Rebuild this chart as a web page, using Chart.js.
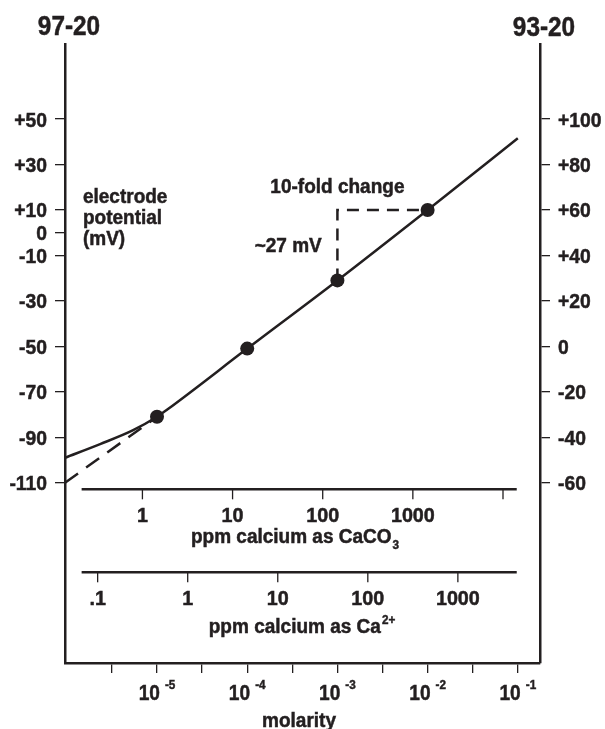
<!DOCTYPE html>
<html>
<head>
<meta charset="utf-8">
<script src="https://cdn.jsdelivr.net/npm/chart.js@4.4.1/dist/chart.umd.min.js"></script>
<style>
  html, body { margin: 0; padding: 0; background: #fff; }
  #wrap { width: 605px; height: 729px; }
</style>
</head>
<body>
<div id="wrap"><canvas id="electrodeChart" width="605" height="729"></canvas></div>
<script>
// response curve: molarity vs electrode potential (mV, left scale)
const molarity = [9.55e-7, 2.34e-6, 5.37e-6, 1e-5, 1.3e-5, 1e-4, 1e-3, 1e-2, 1e-1];
const potential = [-99, -93, -87, -81, -77.8, -51, -21, 10, 41.5];
// dashed extrapolation of the linear part
const extrapMolarity = [9.55e-7, 1e-5];
const extrapPotential = [-110, -81];
// calibration standards
const pointMolarity = [1e-5, 1e-4, 1e-3, 1e-2];
const pointPotential = [-81, -51, -21, 10];
// slope triangle (10-fold change)
const slopeMolarity = [1e-3, 1e-3, 1e-2];
const slopePotential = [-21, 10, 10];

// tick labels
const leftTicks = [50, 30, 10, 0, -10, -30, -50, -70, -90, -110];
const rightTicks = [100, 80, 60, 40, 20, 0, -20, -40, -60];
const molarityTicks = [3.16e-6, 1e-5, 3.16e-5, 1e-4, 3.16e-4, 1e-3, 3.16e-3, 1e-2, 3.16e-2, 1e-1];
const molarityExp = ['', '-5', '', '-4', '', '-3', '', '-2', '', '-1'];
const caco3Ticks = [1, 10, 100, 1000, 10000];
const caco3Labels = ['1', '10', '100', '1000', ''];
const caTicks = [0.1, 1, 10, 100, 1000];
const caLabels = ['.1', '1', '10', '100', '1000'];

const ink = '#231f20';
const family = "'Liberation Sans', Arial, Helvetica, sans-serif";
const font = size => `bold ${size}px ${family}`;

// text written inside the plot, anchored in data units
const notes = [
  { text: 'electrode', x: 1.51e-6, y: 13, align: 'left' },
  { text: 'potential', x: 1.51e-6, y: 3.8, align: 'left' },
  { text: '(mV)', x: 1.51e-6, y: -5.5, align: 'left' },
  { text: '10-fold change', x: 1e-3, y: 17.5, align: 'center' },
  { text: '~27 mV', x: 6.7e-4, y: -8.4, align: 'right' }
];

const signed = v => (v > 0 ? '+' + v : String(v));

// condensed bold text: horizontal squeeze k
function label(ctx, text, x, y, size, align, k) {
  ctx.save();
  ctx.font = font(size);
  ctx.textAlign = align;
  ctx.translate(x, y);
  ctx.scale(k, 1);
  ctx.fillText(text, 0, 0);
  ctx.lineWidth = 0.5;
  ctx.strokeText(text, 0, 0);
  ctx.restore();
}

// text made of pieces (sub/superscripts), centred on cx
function drawRich(ctx, parts, cx, baseline) {
  let total = 0;
  parts.forEach(p => {
    ctx.font = font(p.size);
    p.w = ctx.measureText(p.t).width * p.k;
    total += p.w + (p.gap || 0);
  });
  let xx = cx - total / 2;
  parts.forEach(p => {
    xx += p.gap || 0;
    label(ctx, p.t, xx, baseline + (p.dy || 0), p.size, 'left', p.k);
    xx += p.w;
  });
}

function drawInnerAxis(ctx, chart, scaleId, atValue, ticks, labels) {
  const x = chart.scales.x, y = chart.scales.y, s = chart.scales[scaleId];
  const yy = y.getPixelForValue(atValue);
  ctx.lineWidth = 2.5;
  ctx.beginPath();
  ctx.moveTo(x.getPixelForValue(1.46e-6), yy);
  ctx.lineTo(x.getPixelForValue(0.0973), yy);
  ctx.stroke();
  ctx.lineWidth = 1.3;
  ticks.forEach((t, i) => {
    const px = s.getPixelForValue(t);
    ctx.beginPath();
    ctx.moveTo(px, yy);
    ctx.lineTo(px, yy + 10);
    ctx.stroke();
    if (labels[i]) label(ctx, labels[i], px, yy + 33, 21, 'center', 0.94);
  });
  return yy;
}

const extras = {
  id: 'extras',
  afterDraw(chart) {
    const { ctx, chartArea, scales } = chart;
    const x = scales.x, y = scales.y, yr = scales.y2;
    ctx.save();
    ctx.fillStyle = ink;
    ctx.strokeStyle = ink;
    ctx.textBaseline = 'alphabetic';

    // scale headings
    label(ctx, '97-20', chartArea.left + 4, 35, 28, 'center', 0.87);
    label(ctx, '93-20', chartArea.right + 4, 36, 28, 'center', 0.87);

    // vertical tick labels
    leftTicks.forEach(v => {
      label(ctx, signed(v), chartArea.left - 18, y.getPixelForValue(v) + 7.5, 21, 'right', 0.92);
    });
    rightTicks.forEach(v => {
      label(ctx, signed(v), chartArea.right + 18, yr.getPixelForValue(v) + 7.5, 21, 'left', 0.92);
    });

    // notes inside the plot
    notes.forEach(n => {
      label(ctx, n.text, x.getPixelForValue(n.x), y.getPixelForValue(n.y), 20, n.align, 0.95);
    });

    // ppm axes
    const y1 = drawInnerAxis(ctx, chart, 'xc', -112.9, caco3Ticks, caco3Labels);
    drawRich(ctx, [
      { t: 'ppm calcium as CaCO', size: 20, k: 0.95 },
      { t: '3', size: 13, k: 0.9, dy: 6, gap: 1 }
    ], 295, y1 + 54);
    const y2 = drawInnerAxis(ctx, chart, 'xa', -149.4, caTicks, caLabels);
    drawRich(ctx, [
      { t: 'ppm calcium as Ca', size: 20, k: 0.95 },
      { t: '2+', size: 13, k: 0.9, dy: -9, gap: 1 }
    ], 302, y2 + 61);

    // molarity labels with exponents
    molarityTicks.forEach((t, i) => {
      if (!molarityExp[i]) return;
      drawRich(ctx, [
        { t: '10', size: 22, k: 0.87 },
        { t: molarityExp[i], size: 13, k: 0.9, dy: -11, gap: 5 }
      ], x.getPixelForValue(t), chartArea.bottom + 37);
    });
    label(ctx, 'molarity', 299, chartArea.bottom + 64, 20, 'center', 0.95);
    ctx.restore();
  }
};

const toXY = (xs, ys) => xs.map((v, i) => ({ x: v, y: ys[i] }));

const data = {
  datasets: [{
    label: 'standards',
    data: toXY(pointMolarity, pointPotential),
    showLine: false,
    pointRadius: 7,
    pointBackgroundColor: ink,
    pointBorderWidth: 0
  }, {
    label: 'response',
    data: toXY(molarity, potential),
    borderColor: ink,
    borderWidth: 2.5,
    pointRadius: 0,
    cubicInterpolationMode: 'monotone',
    fill: false
  }, {
    label: 'extrapolation',
    data: toXY(extrapMolarity, extrapPotential),
    borderColor: ink,
    borderWidth: 2.5,
    borderDash: [16, 10],
    pointRadius: 0,
    fill: false
  }, {
    label: 'slope',
    data: toXY(slopeMolarity, slopePotential),
    borderColor: ink,
    borderWidth: 2.5,
    borderDash: [12, 8],
    pointRadius: 0,
    fill: false
  }]
};

const axisGrid = { drawOnChartArea: false, drawTicks: true, tickLength: 10, color: ink, lineWidth: 1.3 };
const axisBorder = { display: true, color: ink, width: 2.5 };

const config = {
  type: 'line',
  data: data,
  options: {
    responsive: false,
    animation: false,
    devicePixelRatio: 1,
    layout: { padding: { top: 44, left: 0, right: 0, bottom: 0 } },
    plugins: {
      legend: { display: false },
      tooltip: { enabled: false }
    },
    scales: {
      x: {
        type: 'logarithmic',
        position: 'bottom',
        min: 9.55e-7,
        max: 0.1762,
        afterBuildTicks: scale => { scale.ticks = molarityTicks.map(v => ({ value: v })); },
        afterFit: scale => { scale.height = 66; },
        ticks: { display: false },
        grid: axisGrid,
        border: axisBorder
      },
      xc: {
        type: 'logarithmic',
        axis: 'x',
        display: false,
        min: 0.1384,
        max: 25730
      },
      xa: {
        type: 'logarithmic',
        axis: 'x',
        display: false,
        min: 0.0434,
        max: 8166
      },
      y: {
        type: 'linear',
        position: 'left',
        min: -189.3,
        max: 83,
        afterBuildTicks: scale => { scale.ticks = leftTicks.map(v => ({ value: v })); },
        afterFit: scale => { scale.width = 65; },
        ticks: { display: false },
        grid: axisGrid,
        border: axisBorder
      },
      y2: {
        type: 'linear',
        position: 'right',
        min: -139.3,
        max: 133,
        afterBuildTicks: scale => { scale.ticks = rightTicks.map(v => ({ value: v })); },
        afterFit: scale => { scale.width = 65; },
        ticks: { display: false },
        grid: axisGrid,
        border: axisBorder
      }
    }
  },
  plugins: [extras]
};

const ctx = document.getElementById('electrodeChart').getContext('2d');
new Chart(ctx, config);
</script>
</body>
</html>
